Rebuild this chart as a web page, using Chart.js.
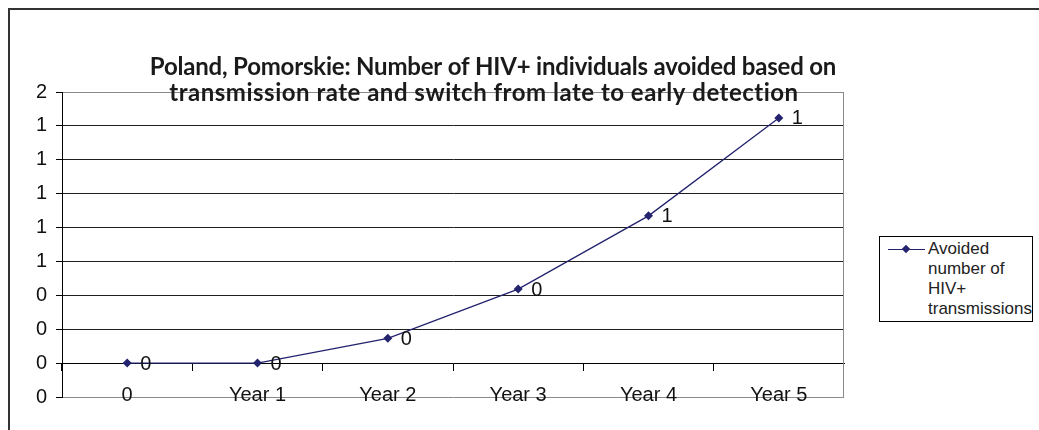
<!DOCTYPE html>
<html lang="en">
<head>
<meta charset="UTF-8" />
<title>Poland, Pomorskie: HIV+ individuals avoided</title>
<script src="https://cdn.jsdelivr.net/npm/chart.js"></script>
<style>
  html, body { margin: 0; padding: 0; background: #fff; }
  body {
    width: 1039px;
    height: 430px;
    overflow: hidden;
    position: relative;
    font-family: "Liberation Sans", Arial, sans-serif;
  }
  .frame {
    position: absolute;
    left: 8px;
    top: 8px;
    width: 1100px;
    height: 500px;
    border-left: 2px solid #333;
    border-top: 2px solid #333;
  }
  #chart { position: absolute; left: 0; top: 0; }
  .legend {
    position: absolute;
    left: 879px;
    top: 236px;
    width: 154px;
    height: 86px;
    border: 1px solid #000;
    background: #fff;
    box-sizing: border-box;
  }
  .legend .line {
    position: absolute;
    left: 8px;
    top: 12px;
    width: 37px;
    height: 1px;
    background: #23236e;
  }
  .legend .diamond {
    position: absolute;
    left: 23px;
    top: 9px;
    width: 6px;
    height: 6px;
    background: #23236e;
    transform: rotate(45deg);
  }
  .legend .text {
    position: absolute;
    left: 48px;
    top: 2px;
    font-size: 17px;
    line-height: 20px;
    color: #222;
  }
</style>
</head>
<body>
  <div class="frame"></div>
  <canvas id="chart" width="1039" height="430"></canvas>
  <div class="legend">
    <div class="line"></div>
    <div class="diamond"></div>
    <div class="text">Avoided<br>number of<br>HIV+<br>transmissions</div>
  </div>

<script>
  const years = ["0", "Year 1", "Year 2", "Year 3", "Year 4", "Year 5"];
  const avoided = [0, 0, 0.146, 0.437, 0.869, 1.447];
  const seriesName = "Avoided number of HIV+ transmissions";
  const titleLines = [
    "Poland, Pomorskie: Number of HIV+ individuals avoided based on",
    "transmission rate and switch from late to early detection"
  ];

  const navy = '#23236e';
  const axisFont = { family: '"Liberation Sans", Arial, sans-serif', size: 20 };

  // value labels next to points, right edge of plot and the title (it sits over the plot)
  const overlayText = {
    id: 'overlayText',
    beforeDatasetsDraw(chart) {
      const { ctx, chartArea } = chart;
      ctx.save();
      ctx.strokeStyle = '#8a8a8a';
      ctx.lineWidth = 1;
      ctx.beginPath();
      ctx.moveTo(Math.round(chartArea.right) - 0.5, chartArea.top);
      ctx.lineTo(Math.round(chartArea.right) - 0.5, chartArea.bottom);
      ctx.stroke();
      ctx.restore();
    },
    afterDatasetsDraw(chart) {
      const { ctx } = chart;
      const meta = chart.getDatasetMeta(0);
      ctx.save();
      ctx.font = '20px "Liberation Sans", Arial, sans-serif';
      ctx.fillStyle = '#111';
      ctx.textAlign = 'left';
      ctx.textBaseline = 'middle';
      meta.data.forEach((pt, i) => {
        ctx.fillText(String(Math.round(avoided[i])), pt.x + 13, pt.y + 1);
      });

      ctx.font = 'bold 24px Lato, "Open Sans", sans-serif';
      ctx.fillStyle = '#1a1a1a';
      ctx.textAlign = 'center';
      ctx.textBaseline = 'alphabetic';
      ctx.letterSpacing = '-0.2px';
      ctx.fillText(titleLines[0], 493, 75);
      ctx.letterSpacing = '0.5px';
      ctx.fillText(titleLines[1], 484, 101);
      ctx.restore();
    }
  };

  new Chart(document.getElementById('chart'), {
    type: 'line',
    data: {
      labels: years,
      datasets: [{
        label: seriesName,
        data: avoided,
        borderColor: navy,
        backgroundColor: navy,
        borderWidth: 1.3,
        pointStyle: 'rectRot',
        pointRadius: 4.5,
        pointBorderWidth: 0,
        tension: 0
      }]
    },
    options: {
      responsive: false,
      animation: false,
      devicePixelRatio: 1,
      layout: { padding: { left: 0, top: 92, right: 195, bottom: 33 } },
      plugins: {
        legend: { display: false },
        tooltip: { enabled: false },
        title: { display: false }
      },
      scales: {
        x: {
          type: 'category',
          position: { y: 0 },
          offset: true,
          grid: {
            offset: true,
            drawOnChartArea: false,
            drawTicks: true,
            tickLength: 7,
            color: '#000'
          },
          border: { display: true, color: '#000', width: 1 },
          ticks: {
            color: '#111',
            font: axisFont,
            padding: 13,
            maxRotation: 0,
            autoSkip: false
          }
        },
        y: {
          min: -0.2,
          max: 1.6,
          afterFit: s => { s.width = 62; },
          ticks: {
            stepSize: 0.2,
            autoSkip: false,
            color: '#111',
            font: axisFont,
            padding: 9,
            callback: v => String(Math.abs(Math.round(v)))
          },
          grid: {
            color: c => (c.tick.value < -0.19 || c.tick.value > 1.59) ? '#8a8a8a' : '#1e1e1e',
            tickColor: '#000',
            tickLength: 6,
            lineWidth: 1
          },
          border: { color: '#000', width: 1 }
        }
      }
    },
    plugins: [overlayText]
  });
</script>
</body>
</html>
